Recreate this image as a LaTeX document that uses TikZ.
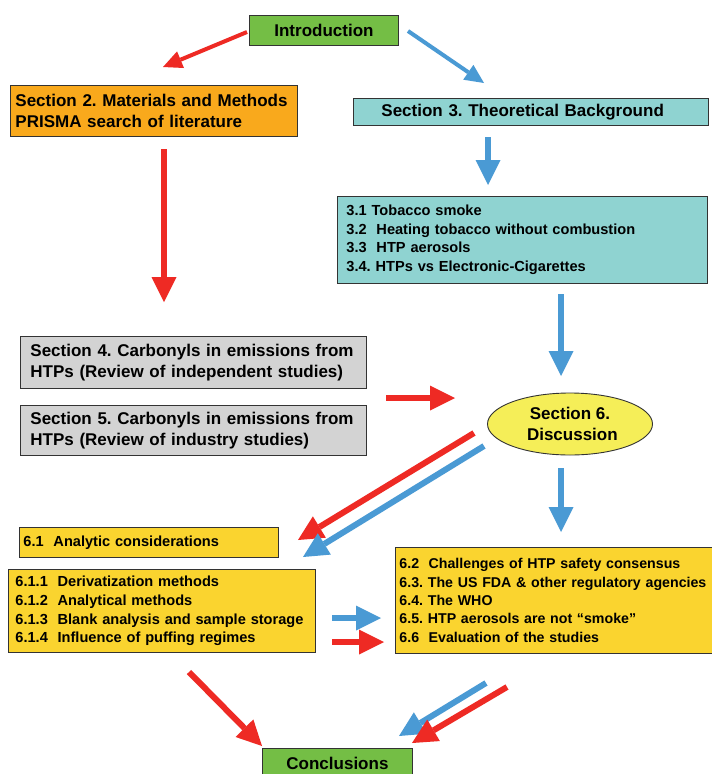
\documentclass[tikz,border=0pt]{standalone}
\usepackage{fontspec}
\setmainfont{Liberation Sans}
\usetikzlibrary{arrows.meta,shapes.geometric}
\frenchspacing
\definecolor{myred}{HTML}{EE2A24}
\definecolor{myblue}{HTML}{4A9AD4}
\definecolor{mygreen}{HTML}{74BE45}
\definecolor{myorange}{HTML}{F9A91C}
\definecolor{myteal}{HTML}{8FD3D1}
\definecolor{mygray}{HTML}{D3D3D3}
\definecolor{myyellow}{HTML}{FAD42F}
\definecolor{ellyellow}{HTML}{F5EE58}
\tikzset{
  bx/.style={draw=black!80, line width=0.9pt, inner ysep=0pt, anchor=north west, align=left,
    font=\bfseries\fontsize{17}{21}\selectfont},
  sm/.style={font=\bfseries\fontsize{14.6}{18.6}\selectfont},
  smr/.style={font=\bfseries\fontsize{14.2}{18.3}\selectfont},
  bigred/.style={draw=myred, line width=6pt, -{Triangle[length=25pt,width=25pt,line width=0pt]}},
  bigblue/.style={draw=myblue, line width=6pt, -{Triangle[length=25pt,width=25pt,line width=0pt]}},
  thinred/.style={draw=myred, line width=4pt, -{Triangle[length=19pt,width=18pt,line width=0pt]}},
  thinblue/.style={draw=myblue, line width=4pt, -{Triangle[length=19pt,width=18pt,line width=0pt]}},
}
\begin{document}
\begin{tikzpicture}[x=1pt,y=-1pt]
\useasboundingbox (0,0) rectangle (712,774);
\clip (0,0) rectangle (712,774);
\fill[white] (0,0) rectangle (712,774);

% boxes
\node[bx, fill=mygreen, inner xsep=0pt, minimum width=149pt, minimum height=30pt, align=center] (intro) at (249,15) {Introduction};
\node[bx, fill=myorange, inner xsep=5pt, text width=277pt, minimum height=51pt] (sec2) at (10,85)
  {Section 2. Materials and Methods\\PRISMA search of literature};
\node[bx, fill=myteal, inner xsep=0pt, text width=355pt, minimum height=27pt] (sec3) at (353,98)
  {\hspace*{28pt}Section 3. Theoretical Background};
\node[bx, sm, fill=myteal, inner xsep=9pt, text width=352pt, minimum height=87pt] (sec3x) at (337,196)
  {3.1 Tobacco smoke\\3.2\ \ Heating tobacco without combustion\\3.3\ \ HTP aerosols\\3.4. HTPs vs Electronic-Cigarettes};
\node[bx, fill=mygray, inner xsep=10pt, text width=326pt, minimum height=52pt] (sec4) at (20,336)
  {Section 4. Carbonyls in emissions from\\HTPs (Review of independent studies)};
\node[bx, fill=mygray, inner xsep=10pt, text width=326pt, minimum height=50pt] (sec5) at (20,405)
  {Section 5. Carbonyls in emissions from\\HTPs (Review of industry studies)};
\node[ellipse, draw=black!80, line width=0.9pt, fill=ellyellow, minimum width=165pt, minimum height=62pt,
  inner sep=0pt, align=center, font=\bfseries\fontsize{17}{21}\selectfont] (sec6) at (570,424)
  {Section 6.\\\ Discussion};
\node[bx, sm, fill=myyellow, inner xsep=4pt, text width=251pt, minimum height=30pt] (s61) at (19,527)
  {6.1\ \ Analytic considerations};
\node[bx, sm, fill=myyellow, inner xsep=7pt, text width=293pt, minimum height=83pt] (s61x) at (8,569)
  {6.1.1\ \ Derivatization methods\\6.1.2\ \ Analytical methods\\6.1.3\ \ Blank analysis and sample storage\\6.1.4\ \ Influence of puffing regimes};
\node[bx, smr, fill=myyellow, inner xsep=4pt, text width=330pt, minimum height=106pt] (s62) at (395,547)
  {6.2\ \ Challenges of HTP safety consensus\\6.3. The US FDA \& other regulatory agencies\\6.4. The WHO\\6.5. HTP aerosols are not “smoke”\\6.6\ \ Evaluation of the studies};
\node[bx, fill=mygreen, inner xsep=0pt, minimum width=150pt, minimum height=30pt, align=center] (concl) at (262,748) {Conclusions};

% arrow end points
\coordinate (a1s) at (247,32);  \coordinate (a1e) at (163,67);
\coordinate (a2s) at (408,31);  \coordinate (a2e) at (484,83);
\coordinate (a3s) at (164,149); \coordinate (a3e) at (164,302);
\coordinate (a4s) at (488,137); \coordinate (a4e) at (488,185);
\coordinate (a5s) at (561,294); \coordinate (a5e) at (561,376);
\coordinate (a6s) at (386,398); \coordinate (a6e) at (455,398);
\coordinate (a7s) at (474,433); \coordinate (a7e) at (298,540);
\coordinate (a8s) at (484,446); \coordinate (a8e) at (303,557);
\coordinate (a9s) at (561,468); \coordinate (a9e) at (561,532);
\coordinate (a10s) at (332,618); \coordinate (a10e) at (381,618);
\coordinate (a11s) at (332,642); \coordinate (a11e) at (384,642);
\coordinate (a12s) at (189,672); \coordinate (a12e) at (262,746);
\coordinate (a13s) at (486,683); \coordinate (a13e) at (399,736);
\coordinate (a14s) at (507,687); \coordinate (a14e) at (412,743);

\draw[thinred] (a1s) -- (a1e);
\draw[thinblue] (a2s) -- (a2e);
\draw[bigred] (a3s) -- (a3e);
\draw[bigblue] (a4s) -- (a4e);
\draw[bigblue] (a5s) -- (a5e);
\draw[bigred] (a6s) -- (a6e);
\draw[bigred] (a7s) -- (a7e);
\draw[bigblue] (a8s) -- (a8e);
\draw[bigblue] (a9s) -- (a9e);
\draw[bigblue] (a10s) -- (a10e);
\draw[bigred] (a11s) -- (a11e);
\draw[bigred] (a12s) -- (a12e);
\draw[bigblue] (a13s) -- (a13e);
\draw[bigred] (a14s) -- (a14e);
\end{tikzpicture}
\end{document}
